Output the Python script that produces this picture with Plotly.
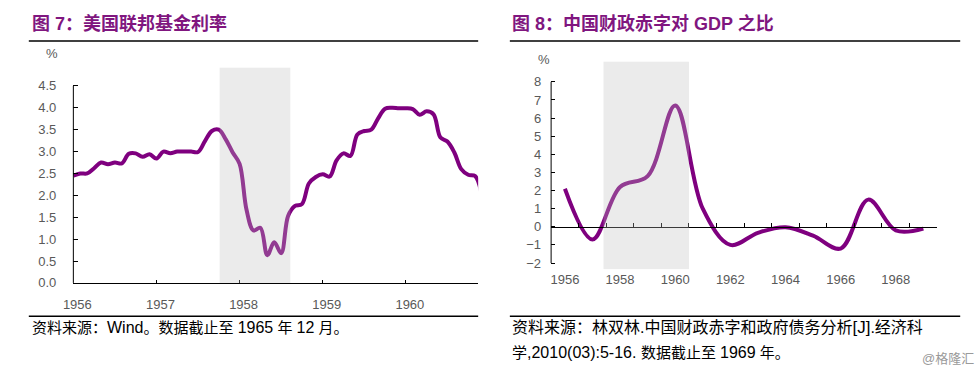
import plotly.graph_objects as go

# ---------------- data ----------------
fed_years = [1956, 1957, 1958, 1959, 1960]
fed_rate = [
    2.45, 2.50, 2.50, 2.62, 2.75, 2.71, 2.75, 2.73, 2.95, 2.96, 2.88, 2.94,   # 1956
    2.84, 3.00, 2.96, 3.00, 3.00, 3.00, 2.99, 3.24, 3.47, 3.50, 3.28, 2.98,   # 1957
    2.72, 1.67, 1.20, 1.26, 0.63, 0.93, 0.68, 1.53, 1.76, 1.80, 2.27, 2.42,   # 1958
    2.48, 2.43, 2.80, 2.96, 2.90, 3.39, 3.47, 3.50, 3.76, 3.98, 4.00, 3.99,   # 1959
    3.99, 3.97, 3.84, 3.92, 3.85, 3.32, 3.23, 2.98, 2.60, 2.47, 2.44, 1.98,   # 1960
]
fed_x = [y + m / 12 for y in fed_years for m in range(12)]
fed_yticks = [0.0, 0.5, 1.0, 1.5, 2.0, 2.5, 3.0, 3.5, 4.0, 4.5]
fed_shade = [1957.76, 1958.61]

def_years = list(range(1956, 1970))
deficit = [2.1, -0.7, 2.2, 2.8, 6.7, 1.0, -1.0, -0.33, -0.02, -0.49, -1.2, 1.5, -0.2, -0.1]
def_label_years = [1956, 1958, 1960, 1962, 1964, 1966, 1968]
def_yticks = [-2, -1, 0, 1, 2, 3, 4, 5, 6, 7, 8]
def_shade = [1957.4, 1960.5]

LAT = "<span style='font-size:16px'>{}</span>"
LAT17 = "<span style='font-size:17px'>{}</span>"
title_left = "图 7：美国联邦基金利率"
title_right = "图 8：中国财政赤字对 GDP 之比"
src_left = ("资料来源：" + LAT.format("Wind") + "。数据截止至 " + LAT.format("1965")
            + " 年 " + LAT.format("12") + " 月。")
src_right1 = "资料来源：林双林.中国财政赤字和政府债务分析" + LAT17.format("[J]") + ".经济科"
src_right2 = ("学" + LAT.format(",2010(03):5-16. ") + "数据截止至 " + LAT.format("1969") + " 年。")
watermark = "@格隆汇"

# ---------------- style ----------------
W, H = 980, 380
PURPLE = "#7F007F"
TITLE_PURPLE = "#80167F"
TICK_GRAY = "#595959"
FONT = "Liberation Sans, Arial, Noto Sans CJK SC, sans-serif"
SHADE = "rgba(190,190,190,0.31)"

L_YR = [0, 4.92]
R_YR = [-2.34, 9.13]
L_XD = [64 / W, 473 / W]
L_YD = [1 - 289 / H, 1 - 69 / H]
R_XD = [546.7 / W, 936.7 / W]
R_YD = [1 - 275 / H, 1 - 62.7 / H]
R_XR = [def_years[0] - 0.5, def_years[-1] + 0.5]
zero_pos = R_YD[0] + (0 - R_YR[0]) / (R_YR[1] - R_YR[0]) * (R_YD[1] - R_YD[0])

tickfont = dict(family=FONT, size=13, color=TICK_GRAY)

fig = go.Figure()
fig.add_trace(go.Scatter(
    x=fed_x, y=fed_rate, mode="lines", xaxis="x", yaxis="y",
    line=dict(color=PURPLE, width=4, shape="spline", smoothing=1),
    hoverinfo="skip", showlegend=False))
fig.add_trace(go.Scatter(
    x=def_years, y=deficit, mode="lines", xaxis="x2", yaxis="y2",
    line=dict(color=PURPLE, width=4, shape="spline", smoothing=1),
    hoverinfo="skip", showlegend=False))
# invisible helper trace so the zero-crossing axis is created
fig.add_trace(go.Scatter(
    x=def_years, y=deficit, mode="lines", xaxis="x3", yaxis="y2",
    line=dict(color="rgba(0,0,0,0)", width=0),
    hoverinfo="skip", showlegend=False))

fig.update_layout(
    width=W, height=H,
    margin=dict(l=0, r=0, t=0, b=0),
    paper_bgcolor="white", plot_bgcolor="white",
    showlegend=False,
    xaxis=dict(domain=L_XD, range=[fed_years[0], 1960.87], anchor="y",
               tickvals=fed_years, ticktext=[str(v) for v in fed_years],
               ticks="inside", ticklen=3, tickcolor="black", tickwidth=1,
               showline=True, linecolor="black", linewidth=1,
               showgrid=False, zeroline=False, tickfont=tickfont,
               ticklabelshift=4, ticklabelstandoff=9, fixedrange=True),
    yaxis=dict(domain=L_YD, range=L_YR, anchor="x",
               tickvals=fed_yticks, tickformat=".1f",
               ticks="inside", ticklen=5, tickcolor="black", tickwidth=1,
               showline=False, showgrid=False, zeroline=False,
               ticklabelstandoff=16,
               tickfont=tickfont, fixedrange=True),
    xaxis2=dict(domain=R_XD, range=R_XR, anchor="y2",
                tickvals=def_label_years, ticktext=[str(v) for v in def_label_years],
                ticks="", showline=False, showgrid=False, zeroline=False,
                ticklabelstandoff=1,
                tickfont=tickfont, fixedrange=True),
    xaxis3=dict(overlaying="x2", range=R_XR, anchor="free", position=zero_pos,
                tickvals=[v + 0.5 for v in [def_years[0] - 1] + def_years],
                ticks="inside", ticklen=4, tickcolor="black", tickwidth=1,
                showticklabels=False, showline=True, linecolor="black", linewidth=1,
                showgrid=False, zeroline=False, fixedrange=True),
    yaxis2=dict(domain=R_YD, range=R_YR, anchor="x2",
                tickvals=def_yticks,
                ticks="inside", ticklen=4, tickcolor="black", tickwidth=1,
                showline=False, showgrid=False, zeroline=False,
                ticklabelstandoff=9,
                tickfont=tickfont, fixedrange=True),
)

# shaded periods (drawn over the line, semi transparent)
fig.add_shape(type="rect", xref="x", yref="y", x0=fed_shade[0], x1=fed_shade[1],
              y0=L_YR[0], y1=L_YR[1], fillcolor=SHADE, line_width=0, layer="above")
fig.add_shape(type="rect", xref="x2", yref="y2", x0=def_shade[0], x1=def_shade[1],
              y0=R_YR[0], y1=R_YR[1], fillcolor=SHADE, line_width=0, layer="above")

# y axis lines limited to the tick span
fig.add_shape(type="line", xref="x domain", yref="y", x0=0, x1=0,
              y0=fed_yticks[0], y1=fed_yticks[-1], line=dict(color="black", width=1))
fig.add_shape(type="line", xref="x2 domain", yref="y2", x0=0, x1=0,
              y0=def_yticks[0], y1=def_yticks[-1], line=dict(color="black", width=1))

# header / footer rules
for x0, x1 in [(19, 473), (505, 960)]:
    for yy in (42, 323):
        fig.add_shape(type="line", xref="paper", yref="paper",
                      x0=x0 / W, x1=x1 / W, y0=1 - yy / H, y1=1 - yy / H,
                      line=dict(color="black", width=1.5))

def ann(text, px, py, size, color="black", bold=False, xanchor="left"):
    fig.add_annotation(text=f"<b>{text}</b>" if bold else text,
                       xref="paper", yref="paper", x=px / W, y=1 - py / H,
                       xanchor=xanchor, yanchor="middle", showarrow=False,
                       font=dict(family=FONT, size=size, color=color))

ann(title_left, 20, 23.5, 18, TITLE_PURPLE, bold=True)
ann(title_right, 505, 23.5, 18, TITLE_PURPLE, bold=True)
ann("%", 34, 55, 13, TICK_GRAY)
ann("%", 531, 61, 13, TICK_GRAY)
ann(src_left, 20, 335, 15)
ann(src_right1, 505, 335, 16)
ann(src_right2, 505, 360, 15)
ann(watermark, 976, 366, 13, "#9a9a9a", xanchor="right")

fig.write_html("out.html",
               config={"displayModeBar": False, "staticPlot": True},
               post_script="document.body.style.margin='0';document.body.style.overflow='hidden';")
